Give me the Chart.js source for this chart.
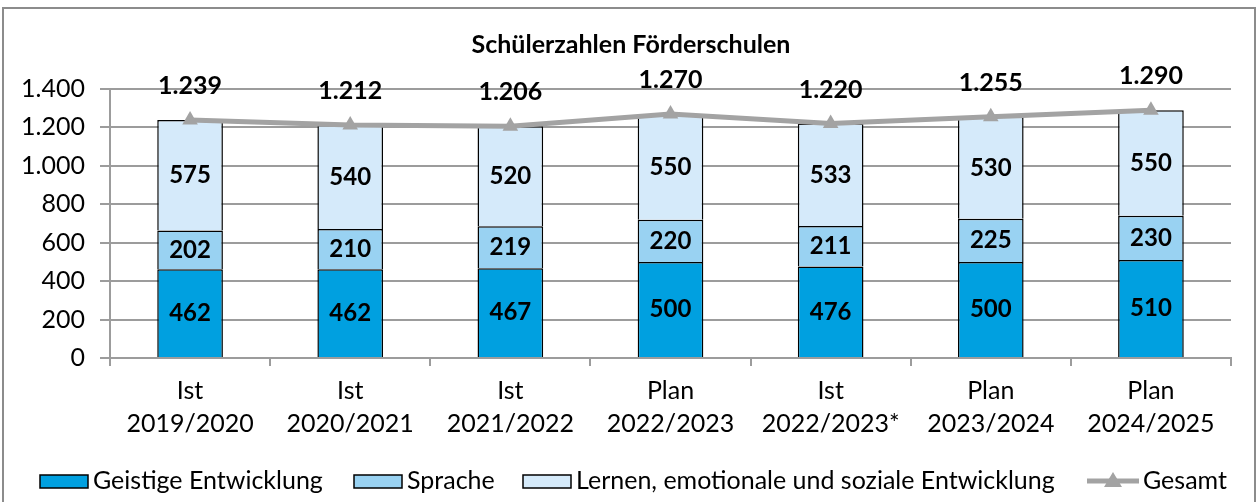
<!DOCTYPE html>
<html>
<head>
<meta charset="utf-8">
<script src="https://cdn.jsdelivr.net/npm/chart.js@4.4.1/dist/chart.umd.min.js"></script>
<style>
  body { margin: 0; background: #fff; }
</style>
</head>
<body>
<canvas id="myChart" width="1258" height="502"></canvas>
<script>
// data
const categories = [
  ["Ist", "2019/2020"],
  ["Ist", "2020/2021"],
  ["Ist", "2021/2022"],
  ["Plan", "2022/2023"],
  ["Ist", "2022/2023*"],
  ["Plan", "2023/2024"],
  ["Plan", "2024/2025"]
];
const geistige = [462, 462, 467, 500, 476, 500, 510];
const sprache = [202, 210, 219, 220, 211, 225, 230];
const lernen = [575, 540, 520, 550, 533, 530, 550];
const gesamt = [1239, 1212, 1206, 1270, 1220, 1255, 1290];
const yMax = 1400;
const yStep = 200;

const chartTitle = "Schülerzahlen Förderschulen";
const FONT = "Lato";
const gridGray = "#9c9c9c";
const lineGray = "#a3a3a3";

function deNum(v) {
  return String(v).replace(/\B(?=(\d{3})+(?!\d))/g, ".");
}

// labels inside the bars and above the line points
const valueLabels = {
  id: "valueLabels",
  afterDatasetsDraw(chart) {
    const ctx = chart.ctx;
    ctx.save();
    ctx.fillStyle = "#000";
    ctx.textAlign = "center";
    ctx.textBaseline = "middle";
    chart.data.datasets.forEach((ds, i) => {
      const meta = chart.getDatasetMeta(i);
      meta.data.forEach((el, j) => {
        if (ds.type === "line") {
          ctx.font = "bold 25px " + FONT;
          ctx.fillText(deNum(ds.data[j]), el.x, el.y - 34);
        } else {
          ctx.font = "bold 24px " + FONT;
          ctx.fillText(deNum(ds.data[j]), el.x, (el.y + el.base) / 2);
        }
      });
    });
    ctx.restore();
  }
};

// frame, title and legend
const decor = {
  id: "decor",
  afterDraw(chart) {
    const ctx = chart.ctx;
    ctx.save();
    ctx.strokeStyle = "#8c8c8c";
    ctx.lineWidth = 2;
    ctx.strokeRect(3, 8, 1252, 520);

    ctx.fillStyle = "#000";
    ctx.textAlign = "center";
    ctx.textBaseline = "middle";
    ctx.font = "bold 25px " + FONT;
    ctx.fillText(chartTitle, 631, 45);

    ctx.font = "25px " + FONT;
    ctx.textAlign = "left";
    const ly = 481;
    const boxes = [
      { x: 40, ds: 0 },
      { x: 354, ds: 1 },
      { x: 523, ds: 2 }
    ];
    boxes.forEach(b => {
      const ds = chart.data.datasets[b.ds];
      ctx.fillStyle = ds.backgroundColor;
      ctx.fillRect(b.x, ly - 6, 48, 13);
      ctx.strokeStyle = "#000";
      ctx.lineWidth = 1.5;
      ctx.strokeRect(b.x, ly - 6, 48, 13);
      ctx.fillStyle = "#000";
      ctx.fillText(ds.label, b.x + 53, ly);
    });
    const lds = chart.data.datasets[3];
    ctx.strokeStyle = lineGray;
    ctx.lineWidth = 5;
    ctx.beginPath();
    ctx.moveTo(1087, ly);
    ctx.lineTo(1139, ly);
    ctx.stroke();
    ctx.fillStyle = lineGray;
    ctx.beginPath();
    ctx.moveTo(1113, ly - 9);
    ctx.lineTo(1122, ly + 6);
    ctx.lineTo(1104, ly + 6);
    ctx.closePath();
    ctx.fill();
    ctx.fillStyle = "#000";
    ctx.fillText(lds.label, 1143, ly);
    ctx.restore();
  }
};

const ctx = document.getElementById("myChart").getContext("2d");
const myChart = new Chart(ctx, {
  data: {
    labels: categories,
    datasets: [
      {
        type: "bar",
        label: "Geistige Entwicklung",
        data: geistige,
        backgroundColor: "#00a0e0",
        borderColor: "#000",
        borderWidth: 1.5,
        barPercentage: 0.41,
        categoryPercentage: 1,
        order: 2
      },
      {
        type: "bar",
        label: "Sprache",
        data: sprache,
        backgroundColor: "#99d2f2",
        borderColor: "#000",
        borderWidth: 1.5,
        barPercentage: 0.41,
        categoryPercentage: 1,
        order: 2
      },
      {
        type: "bar",
        label: "Lernen, emotionale und soziale Entwicklung",
        data: lernen,
        backgroundColor: "#d5eafa",
        borderColor: "#000",
        borderWidth: 1.5,
        barPercentage: 0.41,
        categoryPercentage: 1,
        order: 2
      },
      {
        type: "line",
        label: "Gesamt",
        data: gesamt,
        borderColor: lineGray,
        backgroundColor: lineGray,
        borderWidth: 5,
        pointStyle: "triangle",
        pointRadius: 9,
        pointBorderWidth: 0,
        pointBackgroundColor: lineGray,
        tension: 0,
        order: 1
      }
    ]
  },
  options: {
    responsive: false,
    animation: false,
    layout: { padding: { top: 89, right: 27, left: 0, bottom: 0 } },
    plugins: {
      legend: { display: false },
      title: { display: false },
      tooltip: { enabled: false }
    },
    scales: {
      x: {
        stacked: true,
        offset: true,
        grid: {
          offset: true,
          drawOnChartArea: false,
          tickLength: 8,
          color: gridGray,
          lineWidth: 2
        },
        border: { color: gridGray, width: 2 },
        ticks: {
          color: "#000",
          font: { family: FONT, size: 25, lineHeight: 1.32 },
          padding: 8,
          maxRotation: 0
        },
        afterFit(scale) { scale.height = 144; }
      },
      y: {
        stacked: true,
        min: 0,
        max: yMax,
        grid: { color: gridGray, lineWidth: 2, tickLength: 10 },
        border: { color: gridGray, width: 2 },
        ticks: {
          stepSize: yStep,
          color: "#000",
          font: { family: FONT, size: 25 },
          padding: 15,
          callback: v => deNum(v)
        },
        afterFit(scale) { scale.width = 110; }
      }
    }
  },
  plugins: [valueLabels, decor]
});
</script>
</body>
</html>
